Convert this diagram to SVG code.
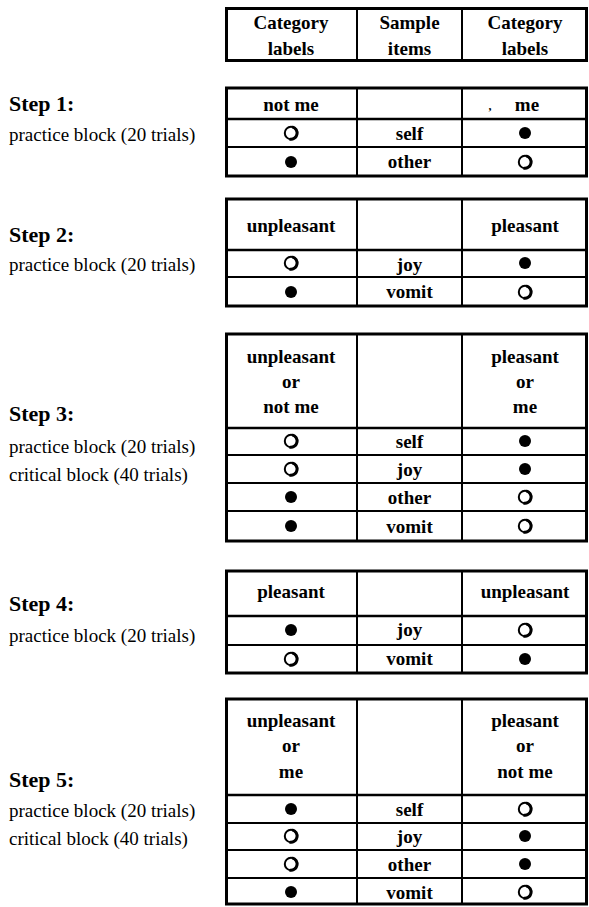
<svg xmlns="http://www.w3.org/2000/svg" xmlns:xlink="http://www.w3.org/1999/xlink" width="589" height="907" viewBox="0 0 589 907">
<style>
.t{font-family:"Liberation Serif","Times New Roman",serif;font-weight:bold;font-size:19px;text-anchor:middle;fill:#000}
.step{font-family:"Liberation Serif","Times New Roman",serif;font-weight:bold;font-size:22px;fill:#000}
.desc{font-family:"Liberation Serif","Times New Roman",serif;font-size:19px;fill:#000}
.outer{fill:#fff;stroke:#000;stroke-width:3}
.ln{stroke:#000;stroke-width:2;fill:none}
.hd{stroke:#000;stroke-width:2.5;fill:none}
</style>
<defs>
<g id="o"><circle r="6.2" fill="none" stroke="#000" stroke-width="2"/><path d="M 1.2 -6.1 A 6.2 6.2 0 0 1 -1.5 6.1" fill="none" stroke="#000" stroke-width="3"/></g>
<circle id="f" r="6" fill="#000"/>
</defs>
<rect width="589" height="907" fill="#fff"/>

<g id="header">
<rect class="outer" x="226.5" y="8.5" width="360" height="52" stroke-width="3.5"/>
<line class="ln" x1="357" y1="8" x2="357" y2="61"/>
<line class="ln" x1="462" y1="8" x2="462" y2="61"/>
<text class="t" x="291" y="29">Category</text>
<text class="t" x="291" y="55">labels</text>
<text class="t" x="409.5" y="29">Sample</text>
<text class="t" x="409.5" y="55">items</text>
<text class="t" x="525" y="29">Category</text>
<text class="t" x="525" y="55">labels</text>
</g>

<g id="step1">
<text class="step" x="9" y="111">Step 1:</text>
<text class="desc" x="9" y="141">practice block (20 trials)</text>
<rect class="outer" x="226.5" y="88" width="360" height="88"/>
<line class="hd" x1="226" y1="119" x2="587" y2="119"/>
<line class="ln" x1="226" y1="147" x2="587" y2="147"/>
<line class="ln" x1="357" y1="88" x2="357" y2="176"/>
<line class="ln" x1="462" y1="88" x2="462" y2="176"/>
<text class="t" x="291" y="111">not me</text>
<text class="t" x="490" y="110" style="font-size:12px">,</text>
<text class="t" x="527" y="111">me</text>
<use xlink:href="#o" x="291" y="133"/>
<text class="t" x="409.5" y="140">self</text>
<use xlink:href="#f" x="525" y="133"/>
<use xlink:href="#f" x="291" y="162"/>
<text class="t" x="409.5" y="168">other</text>
<use xlink:href="#o" x="525" y="162"/>
</g>

<g id="step2">
<text class="step" x="9" y="242">Step 2:</text>
<text class="desc" x="9" y="271">practice block (20 trials)</text>
<rect class="outer" x="226.5" y="199" width="360" height="107"/>
<line class="hd" x1="226" y1="250" x2="587" y2="250"/>
<line class="ln" x1="226" y1="277" x2="587" y2="277"/>
<line class="ln" x1="357" y1="199" x2="357" y2="306"/>
<line class="ln" x1="462" y1="199" x2="462" y2="306"/>
<text class="t" x="291" y="232">unpleasant</text>
<text class="t" x="525" y="232">pleasant</text>
<use xlink:href="#o" x="291" y="263"/>
<text class="t" x="409.5" y="271">joy</text>
<use xlink:href="#f" x="525" y="263"/>
<use xlink:href="#f" x="291" y="292"/>
<text class="t" x="409.5" y="298">vomit</text>
<use xlink:href="#o" x="525" y="292"/>
</g>

<g id="step3">
<text class="step" x="9" y="421">Step 3:</text>
<text class="desc" x="9" y="453">practice block (20 trials)</text>
<text class="desc" x="9" y="481">critical block (40 trials)</text>
<rect class="outer" x="226.5" y="334" width="360" height="207"/>
<line class="hd" x1="226" y1="428" x2="587" y2="428"/>
<line class="ln" x1="226" y1="455" x2="587" y2="455"/>
<line class="ln" x1="226" y1="483" x2="587" y2="483"/>
<line class="ln" x1="226" y1="511" x2="587" y2="511"/>
<line class="ln" x1="357" y1="334" x2="357" y2="541"/>
<line class="ln" x1="462" y1="334" x2="462" y2="541"/>
<text class="t" x="291" y="363">unpleasant</text>
<text class="t" x="291" y="388">or</text>
<text class="t" x="291" y="413">not me</text>
<text class="t" x="525" y="363">pleasant</text>
<text class="t" x="525" y="388">or</text>
<text class="t" x="525" y="413">me</text>
<use xlink:href="#o" x="291" y="441"/>
<text class="t" x="409.5" y="448">self</text>
<use xlink:href="#f" x="525" y="441"/>
<use xlink:href="#o" x="291" y="469"/>
<text class="t" x="409.5" y="476">joy</text>
<use xlink:href="#f" x="525" y="469"/>
<use xlink:href="#f" x="291" y="497"/>
<text class="t" x="409.5" y="504">other</text>
<use xlink:href="#o" x="525" y="497"/>
<use xlink:href="#f" x="291" y="526"/>
<text class="t" x="409.5" y="533">vomit</text>
<use xlink:href="#o" x="525" y="526"/>
</g>

<g id="step4">
<text class="step" x="9" y="611">Step 4:</text>
<text class="desc" x="9" y="642">practice block (20 trials)</text>
<rect class="outer" x="226.5" y="571" width="360" height="102"/>
<line class="hd" x1="226" y1="616" x2="587" y2="616"/>
<line class="ln" x1="226" y1="645" x2="587" y2="645"/>
<line class="ln" x1="357" y1="571" x2="357" y2="673"/>
<line class="ln" x1="462" y1="571" x2="462" y2="673"/>
<text class="t" x="291" y="598">pleasant</text>
<text class="t" x="525" y="598">unpleasant</text>
<use xlink:href="#f" x="291" y="630"/>
<text class="t" x="409.5" y="636">joy</text>
<use xlink:href="#o" x="525" y="630"/>
<use xlink:href="#o" x="291" y="659"/>
<text class="t" x="409.5" y="665">vomit</text>
<use xlink:href="#f" x="525" y="659"/>
</g>

<g id="step5">
<text class="step" x="9" y="787">Step 5:</text>
<text class="desc" x="9" y="817">practice block (20 trials)</text>
<text class="desc" x="9" y="845">critical block (40 trials)</text>
<rect class="outer" x="226.5" y="699" width="360" height="205"/>
<line class="hd" x1="226" y1="795" x2="587" y2="795"/>
<line class="ln" x1="226" y1="823" x2="587" y2="823"/>
<line class="ln" x1="226" y1="850" x2="587" y2="850"/>
<line class="ln" x1="226" y1="878" x2="587" y2="878"/>
<line class="ln" x1="357" y1="699" x2="357" y2="904"/>
<line class="ln" x1="462" y1="699" x2="462" y2="904"/>
<text class="t" x="291" y="727">unpleasant</text>
<text class="t" x="291" y="752">or</text>
<text class="t" x="291" y="778">me</text>
<text class="t" x="525" y="727">pleasant</text>
<text class="t" x="525" y="752">or</text>
<text class="t" x="525" y="778">not me</text>
<use xlink:href="#f" x="291" y="809"/>
<text class="t" x="409.5" y="816">self</text>
<use xlink:href="#o" x="525" y="809"/>
<use xlink:href="#o" x="291" y="836"/>
<text class="t" x="409.5" y="843">joy</text>
<use xlink:href="#f" x="525" y="836"/>
<use xlink:href="#o" x="291" y="864"/>
<text class="t" x="409.5" y="871">other</text>
<use xlink:href="#f" x="525" y="864"/>
<use xlink:href="#f" x="291" y="892"/>
<text class="t" x="409.5" y="899">vomit</text>
<use xlink:href="#o" x="525" y="892"/>
</g>

<g id="connectors"></g>
</svg>
